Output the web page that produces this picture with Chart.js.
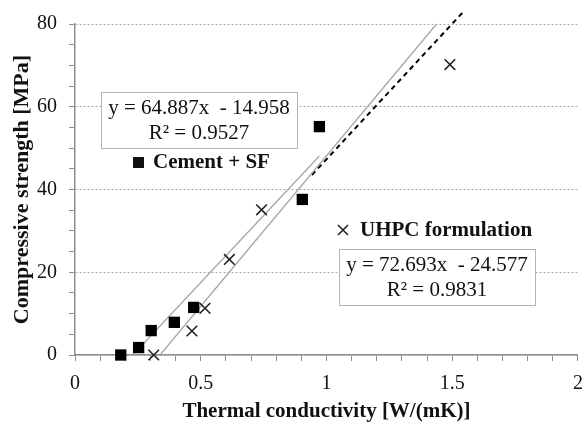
<!DOCTYPE html>
<html>
<head>
<meta charset="utf-8">
<script src="https://cdn.jsdelivr.net/npm/chart.js@4.4.1/dist/chart.umd.min.js"></script>
<style>
  html, body { margin: 0; padding: 0; background: #fff; }
  #wrap { width: 587px; height: 426px; }
</style>
</head>
<body>
<div id="wrap"><canvas id="chart" width="587" height="426"></canvas></div>
<script>
// data
const cementX = [0.182, 0.253, 0.303, 0.395, 0.472, 0.904, 0.972];
const cementY = [0, 1.8, 5.9, 7.9, 11.5, 37.6, 55.2];
const uhpcX = [0.313, 0.465, 0.517, 0.614, 0.742, 1.491];
const uhpcY = [0, 5.8, 11.3, 23.1, 35.1, 70.2];

// trend line ends
const cementFitX = [0.23, 0.972];
const cementFitY = [0, 48.1];
const uhpcFitX = [0.338, 1.438];
const uhpcFitY = [0, 80];
const dashX = [0.942, 1.545];
const dashY = [43.5, 83];

const xMin = 0, xMax = 2, xStep = 0.1, xMajor = 0.5;
const yMin = 0, yMax = 80, yStep = 5, yMajor = 20;

const cementEq = ["y = 64.887x  - 14.958", "R\u00b2 = 0.9527"];
const uhpcEq = ["y = 72.693x  - 24.577", "R\u00b2 = 0.9831"];
const cementLabel = "Cement + SF";
const uhpcLabel = "UHPC formulation";
const xTitle = "Thermal conductivity [W/(mK)]";
const yTitle = "Compressive strength [MPa]";

const pts = (xs, ys) => xs.map((x, i) => ({ x: x, y: ys[i] }));
const serif = "'Liberation Serif', 'Times New Roman', serif";
const axisGray = "#8f8f8f";
const gridGray = "#a8a8a8";

///////////////////////////
// LABELS + EQUATION BOXES
///////////////////////////

function eqBox(ctx, cx, cy, w, h, lines) {
    ctx.save();
    ctx.fillStyle = "#fff";
    ctx.strokeStyle = "#b4b4b4";
    ctx.lineWidth = 1;
    ctx.fillRect(cx - w / 2, cy - h / 2, w, h);
    ctx.strokeRect(cx - w / 2 + 0.5, cy - h / 2 + 0.5, w, h);
    ctx.fillStyle = "#111";
    ctx.font = "21px " + serif;
    ctx.textAlign = "center";
    ctx.textBaseline = "middle";
    ctx.fillText(lines[0], cx, cy - 12);
    ctx.fillText(lines[1], cx, cy + 13);
    ctx.restore();
}

const notes = {
    id: "notes",
    afterDatasetsDraw(chart) {
        const ctx = chart.ctx;
        const a = chart.chartArea;

        eqBox(ctx, a.left + 124, a.top + 96, 196, 56, cementEq);
        eqBox(ctx, a.left + 362, a.top + 253, 196, 56, uhpcEq);

        ctx.save();
        ctx.fillStyle = "#111";
        ctx.font = "bold 21px " + serif;
        ctx.textBaseline = "middle";
        ctx.textAlign = "left";

        // cement marker + label
        ctx.fillRect(a.left + 58, a.top + 133, 11, 11);
        ctx.fillText(cementLabel, a.left + 78, a.top + 139);

        // uhpc marker + label
        const mx = a.left + 268, my = a.top + 206;
        ctx.strokeStyle = "#222";
        ctx.lineWidth = 1.6;
        ctx.beginPath();
        ctx.moveTo(mx - 5, my - 5); ctx.lineTo(mx + 5, my + 5);
        ctx.moveTo(mx + 5, my - 5); ctx.lineTo(mx - 5, my + 5);
        ctx.stroke();
        ctx.fillText(uhpcLabel, a.left + 285, a.top + 207);
        ctx.restore();
    }
};

///////////////////////////
// CHART
///////////////////////////

const isMajor = (v, m) => Math.abs(v / m - Math.round(v / m)) < 1e-6;

new Chart(document.getElementById("chart"), {
    type: "scatter",
    data: {
        datasets: [
            {
                label: cementLabel,
                data: pts(cementX, cementY),
                pointStyle: "rect",
                pointRadius: 8,
                pointHoverRadius: 8,
                backgroundColor: "#000",
                borderColor: "#000",
                borderWidth: 0,
                clip: false
            },
            {
                label: uhpcLabel,
                data: pts(uhpcX, uhpcY),
                pointStyle: "crossRot",
                pointRadius: 7.5,
                pointHoverRadius: 7.5,
                borderColor: "#222",
                borderWidth: 1.6,
                clip: false
            },
            {
                label: "fit cement",
                data: pts(cementFitX, cementFitY),
                showLine: true,
                pointRadius: 0,
                borderColor: gridGray,
                borderWidth: 1.3,
                clip: false
            },
            {
                label: "fit uhpc",
                data: pts(uhpcFitX, uhpcFitY),
                showLine: true,
                pointRadius: 0,
                borderColor: gridGray,
                borderWidth: 1.3,
                clip: false
            },
            {
                label: "dashed",
                data: pts(dashX, dashY),
                showLine: true,
                pointRadius: 0,
                borderColor: "#000",
                borderWidth: 2,
                borderDash: [5, 4],
                clip: false
            }
        ]
    },
    options: {
        responsive: false,
        animation: false,
        events: [],
        layout: { padding: { top: 22, right: 6, left: 0, bottom: 0 } },
        plugins: {
            legend: { display: false },
            tooltip: { enabled: false }
        },
        scales: {
            x: {
                type: "linear",
                min: xMin,
                max: xMax,
                afterFit(scale) {
                    // fixed box so the plot area matches the picture
                    scale.height = 71;
                    scale.paddingLeft = 0;
                    scale.paddingRight = 0;
                },
                ticks: {
                    stepSize: xStep,
                    autoSkip: false,
                    maxRotation: 0,
                    padding: 11,
                    color: "#111",
                    font: { family: serif, size: 20 },
                    callback: v => isMajor(v, xMajor) ? String(Math.round(v * 10) / 10) : ""
                },
                grid: {
                    drawOnChartArea: false,
                    drawTicks: true,
                    tickLength: 6,
                    tickColor: axisGray,
                    tickWidth: 1
                },
                border: { color: axisGray, width: 1.5 },
                title: {
                    display: true,
                    text: xTitle,
                    color: "#111",
                    font: { family: serif, size: 21, weight: "bold" },
                    padding: { top: 0, bottom: 2 }
                }
            },
            y: {
                type: "linear",
                min: yMin,
                max: yMax,
                afterFit(scale) { scale.width = 75; },
                ticks: {
                    stepSize: yStep,
                    autoSkip: false,
                    padding: 12,
                    color: "#111",
                    font: { family: serif, size: 20 },
                    callback: v => isMajor(v, yMajor) ? String(v) : ""
                },
                grid: {
                    color: ctx => (ctx.tick && isMajor(ctx.tick.value, yMajor)) ? gridGray : "rgba(0,0,0,0)",
                    lineWidth: 1,
                    drawTicks: true,
                    tickLength: 6,
                    tickColor: axisGray,
                    tickWidth: 1
                },
                border: { color: axisGray, width: 1.5, dash: [2, 2] },
                title: {
                    display: true,
                    text: yTitle,
                    color: "#111",
                    font: { family: serif, size: 22, weight: "bold" },
                    padding: { top: 9, bottom: 0 }
                }
            }
        }
    },
    plugins: [notes]
});
</script>
</body>
</html>
